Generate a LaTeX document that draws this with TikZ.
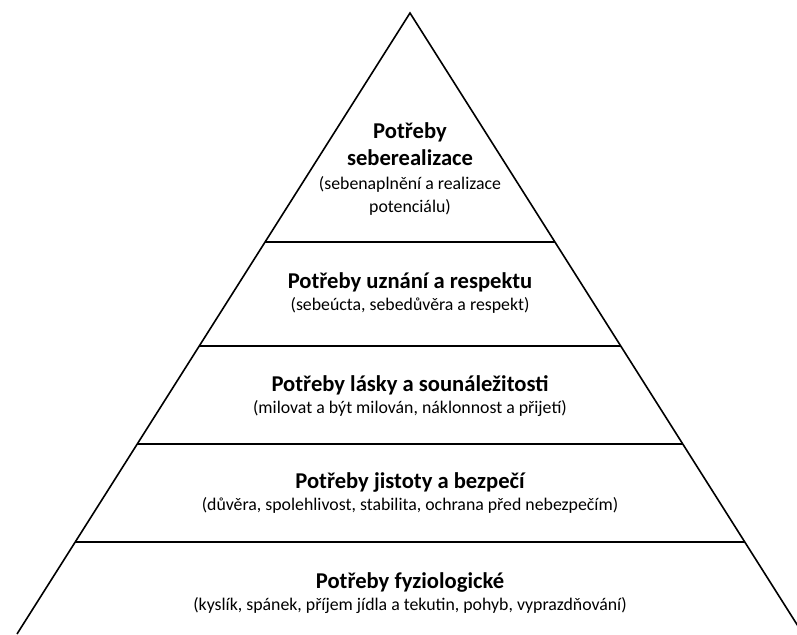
\documentclass[tikz,border=0pt]{standalone}
\usepackage{fontspec}
\setmainfont{Carlito}
\begin{document}
\begin{tikzpicture}[x=1pt,y=-1pt,
  edge/.style={draw=black,line width=1.6pt},
  ttl/.style={anchor=base,inner sep=0pt,font=\bfseries\fontsize{22.6}{26}\selectfont},
  sub/.style={anchor=base,inner sep=0pt,font=\fontsize{17.8}{21}\selectfont}]
\useasboundingbox (0,0) rectangle (797,634);
\clip (0,0) rectangle (797,634);
\coordinate (apex) at (410,13);
\coordinate (bl) at (17,634);
\coordinate (br) at (803,634);
\coordinate (l1) at (265.1,242); \coordinate (r1) at (554.9,242);
\coordinate (l2) at (199.2,346); \coordinate (r2) at (620.8,346);
\coordinate (l3) at (137.2,444); \coordinate (r3) at (682.8,444);
\coordinate (l4) at (75.2,542);  \coordinate (r4) at (744.8,542);
\draw[edge] (bl) -- (apex) -- (br);
\draw[edge] (l1) -- (r1);
\draw[edge] (l2) -- (r2);
\draw[edge] (l3) -- (r3);
\draw[edge] (l4) -- (r4);
\node[ttl] (t5a) at (410,138) {Potřeby};
\node[ttl] (t5b) at (410,165) {seberealizace};
\node[sub] (s5a) at (410,189) {(sebenaplnění a realizace};
\node[sub] (s5b) at (410,212) {potenciálu)};
\node[ttl] (t4) at (410,288) {Potřeby uznání a respektu};
\node[sub] (s4) at (410,310) {(sebeúcta, sebedůvěra a respekt)};
\node[ttl] (t3) at (410,391) {Potřeby lásky a sounáležitosti};
\node[sub] (s3) at (410,413) {(milovat a být milován, náklonnost a přijetí)};
\node[ttl] (t2) at (410,488) {Potřeby jistoty a bezpečí};
\node[sub] (s2) at (410,510) {(důvěra, spolehlivost, stabilita, ochrana před nebezpečím)};
\node[ttl] (t1) at (410,588) {Potřeby fyziologické};
\node[sub] (s1) at (410,610) {(kyslík, spánek, příjem jídla a tekutin, pohyb, vyprazdňování)};
\end{tikzpicture}
\end{document}
